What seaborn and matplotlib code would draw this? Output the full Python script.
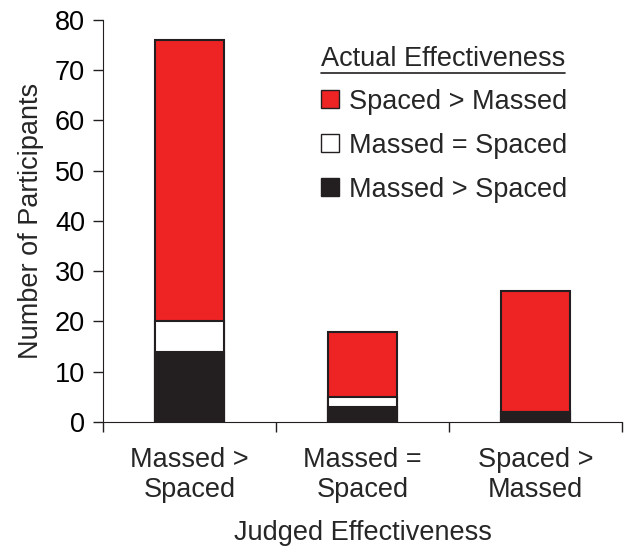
import matplotlib.pyplot as plt
import pandas as pd
import seaborn as sns
from matplotlib.patches import Patch
from matplotlib.lines import Line2D

judged = ['Massed >\nSpaced', 'Massed =\nSpaced', 'Spaced >\nMassed']
massed_better = [14, 3, 2]
equal = [6, 2, 0]
spaced_better = [56, 13, 24]

red = '#ee2324'
black = '#231f20'
fs = 19.5

df = pd.DataFrame({'judged': judged, 'massed': massed_better,
                   'equal': equal, 'spaced': spaced_better})
df['lvl1'] = df['massed']
df['lvl2'] = df['massed'] + df['equal']
df['lvl3'] = df['lvl2'] + df['spaced']

sns.set_style('ticks')
plt.rcParams['font.family'] = ['Liberation Sans', 'DejaVu Sans']

fig = plt.figure(figsize=(6.26, 5.47), dpi=100)
ax = fig.add_axes([0.1645, 0.2285, 0.829, 0.735])

# stacked by drawing cumulative totals, tallest first
for col, c in [('lvl3', red), ('lvl2', 'white'), ('lvl1', black)]:
    sns.barplot(data=df, x='judged', y=col, color=c, width=0.4,
                edgecolor=black, linewidth=1.5, ax=ax, saturation=1)

ax.set_xlim(-0.5, 2.5)
ax.set_ylim(0, 80)
ax.set_yticks(range(0, 81, 10))
ax.set_xticks([-0.5, 0.5, 1.5, 2.5])
ax.set_xticklabels([])
ax.set_xticks([0, 1, 2], minor=True)
ax.set_xticklabels(judged, minor=True, fontsize=fs, linespacing=1.2)
ax.tick_params(axis='x', which='minor', length=0, pad=18)
ax.tick_params(axis='both', which='major', length=7, width=1, colors=black,
               labelsize=fs, labelcolor='black')
ax.tick_params(axis='y', pad=6)
for s in ['left', 'bottom']:
    ax.spines[s].set_color(black)
ax.spines['top'].set_visible(False)
ax.spines['right'].set_visible(False)
ax.set_xlabel('Judged Effectiveness', fontsize=fs, labelpad=12)
ax.set_ylabel('Number of Participants', fontsize=fs, labelpad=8)

handles = [Patch(facecolor=red, edgecolor=black, linewidth=1),
           Patch(facecolor='white', edgecolor=black, linewidth=1),
           Patch(facecolor=black, edgecolor=black, linewidth=1)]
labels = ['Spaced > Massed', 'Massed = Spaced', 'Massed > Spaced']
leg = ax.legend(handles, labels, title='Actual Effectiveness', frameon=False,
                fontsize=fs, title_fontsize=fs, loc='upper left',
                bbox_to_anchor=(0.42, 0.935), handlelength=0.65, handleheight=0.65,
                handletextpad=0.4, labelspacing=0.66, borderaxespad=0,
                borderpad=0)
leg._legend_box.align = 'left'
leg._legend_box.sep = 12

fig.canvas.draw()
tb = leg.get_title().get_window_extent()
inv = fig.transFigure.inverted()
(x0, y0), (x1, y1) = inv.transform([(tb.x0, tb.y0), (tb.x1, tb.y1)])
fig.add_artist(Line2D([x0, x1], [y0 - 0.002, y0 - 0.002], color=black, lw=1.2,
                      transform=fig.transFigure))

fig.savefig('out.png', dpi=100)
